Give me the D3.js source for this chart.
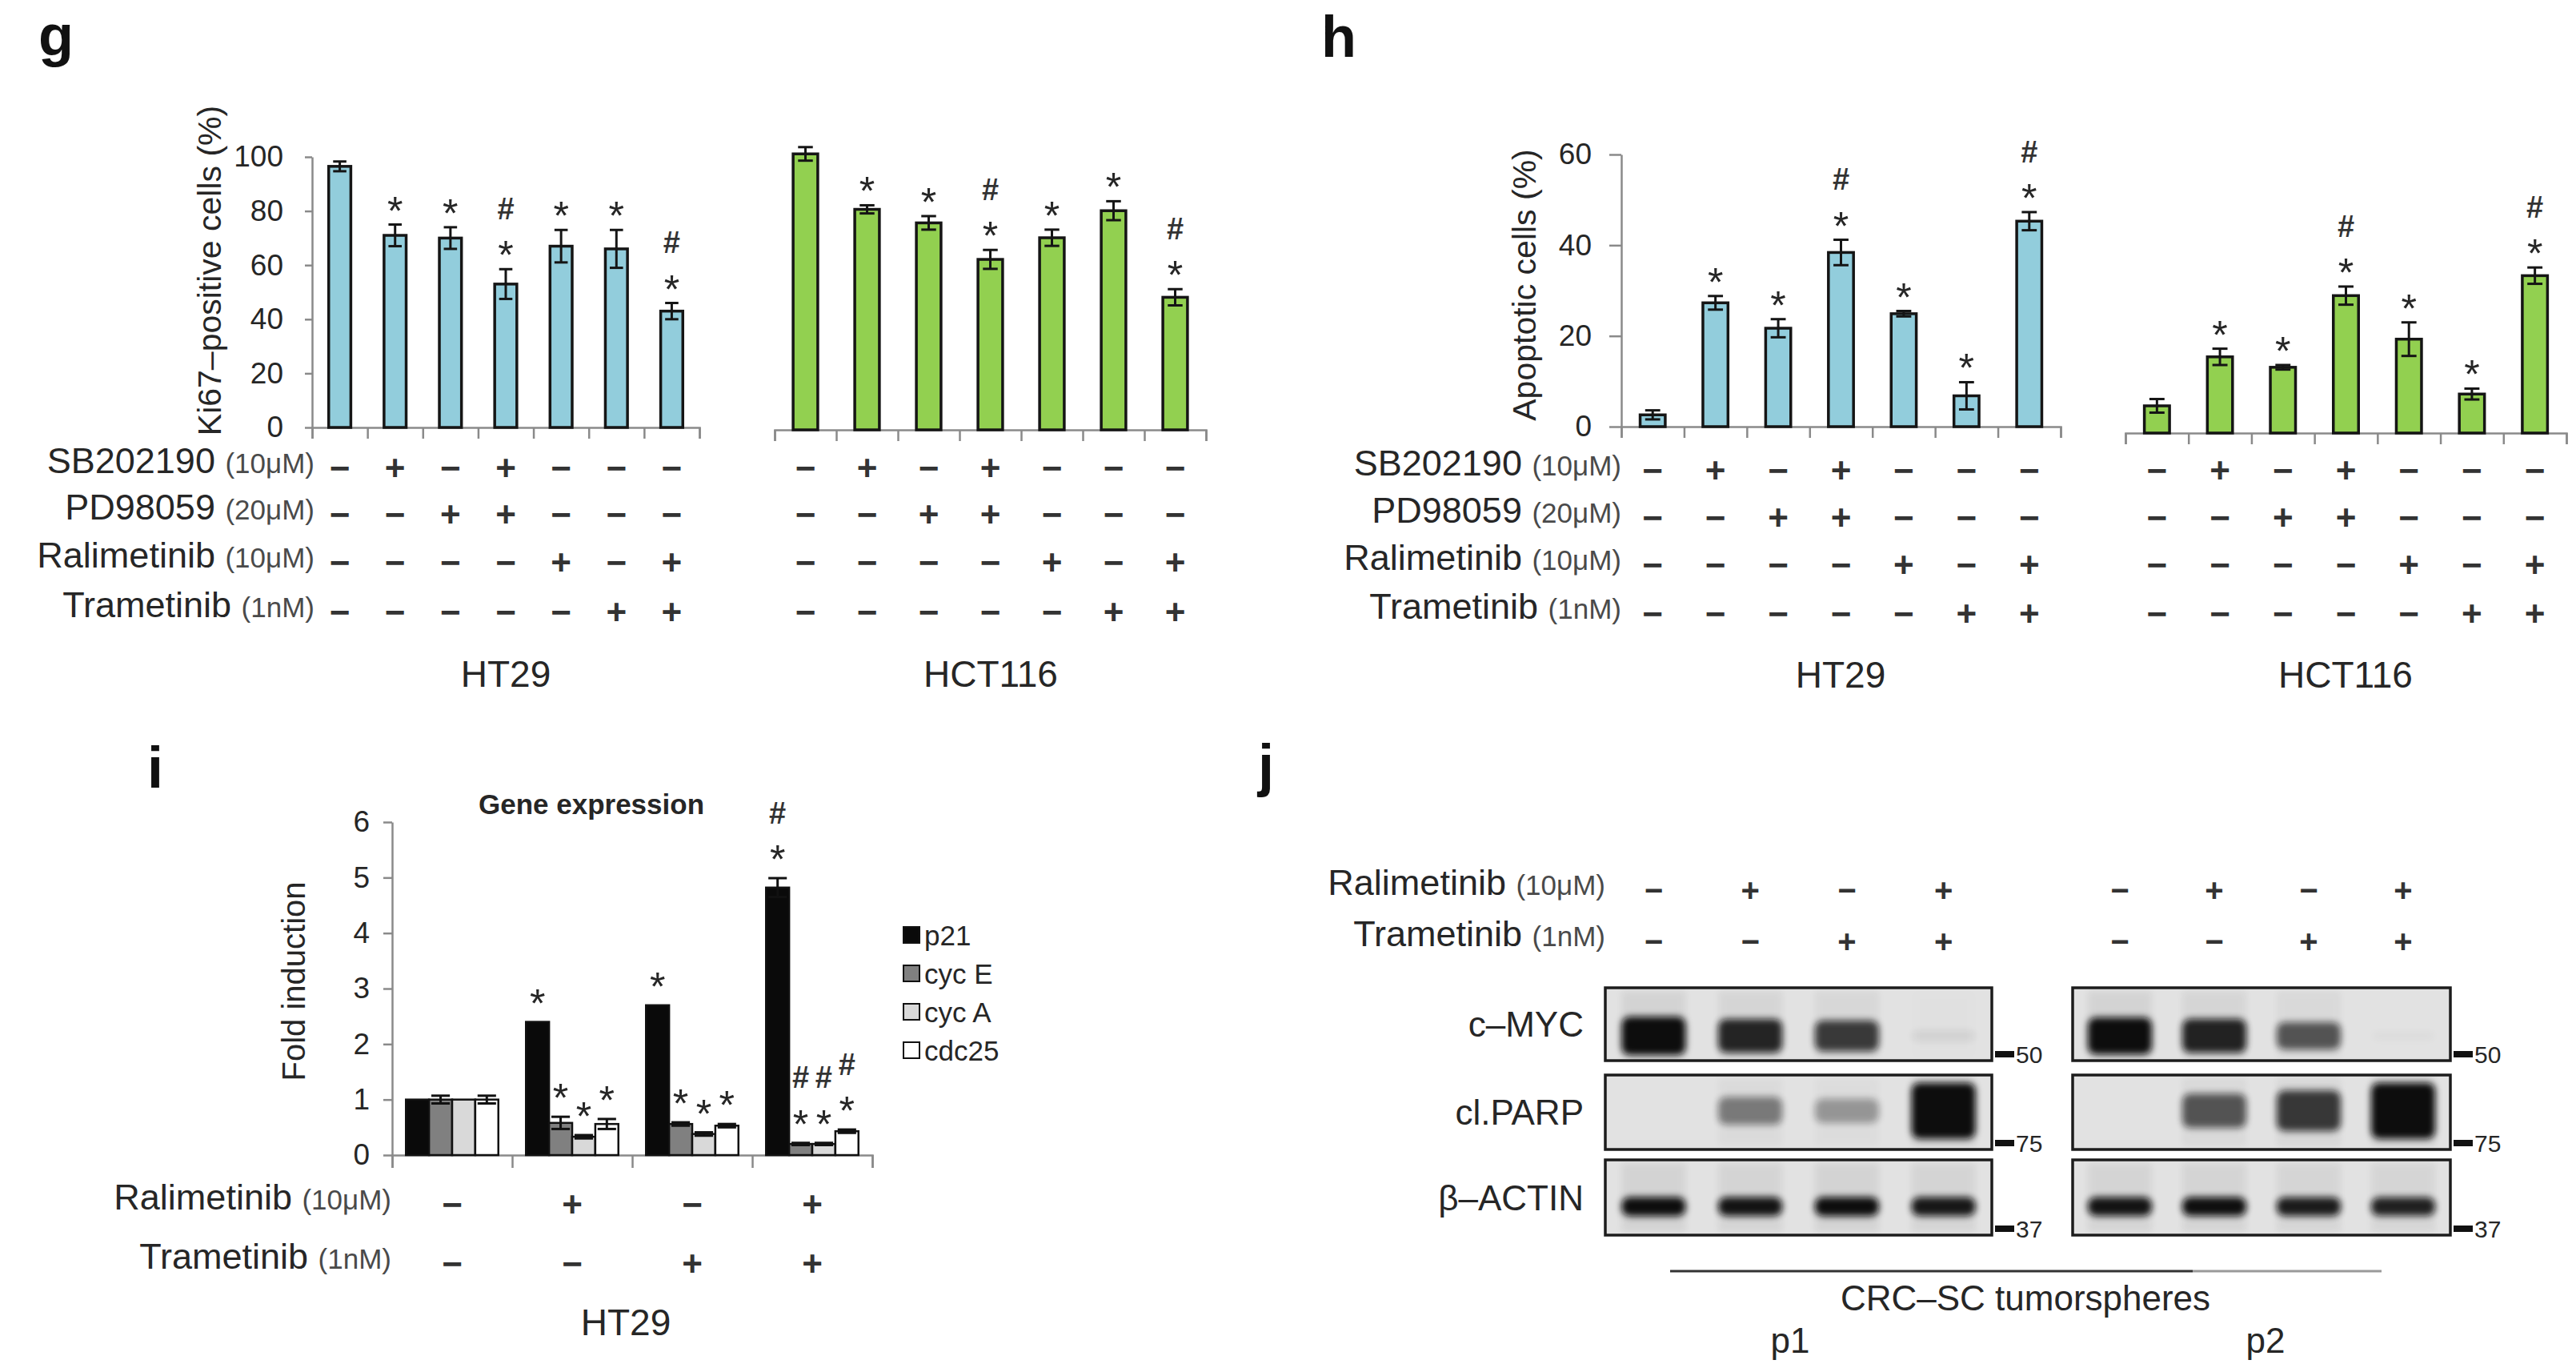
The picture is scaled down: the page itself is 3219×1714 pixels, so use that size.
<!DOCTYPE html>
<html>
<head>
<meta charset="utf-8">
<script src="https://cdn.jsdelivr.net/npm/d3@7"></script>
<style>
body { margin: 0; background: #fff; }
text { font-family: "Liberation Sans", Arial, sans-serif; fill: #262626; }
</style>
</head>
<body>
<script>
// ---- data ----
var drugs = ["SB202190", "PD98059", "Ralimetinib", "Trametinib"];
var doses = ["(10μM)", "(20μM)", "(10μM)", "(1nM)"];
var treatment = [
  [0, 1, 0, 1, 0, 0, 0],
  [0, 0, 1, 1, 0, 0, 0],
  [0, 0, 0, 0, 1, 0, 1],
  [0, 0, 0, 0, 0, 1, 1]
];
var starFlags = [0, 1, 1, 1, 1, 1, 1];
var hashFlags = [0, 0, 0, 1, 0, 0, 1];

var ki67Ticks = [0, 20, 40, 60, 80, 100];
var ki67HT29 = [96.5, 71, 70, 53, 67, 66, 43];
var ki67HT29Err = [1.8, 4, 4, 5.5, 6, 7, 3];
var ki67HCT116 = [102, 81.5, 76.5, 63, 71, 81, 49];
var ki67HCT116Err = [2.5, 1.5, 2.5, 3.5, 3, 3.5, 3];

var apoTicks = [0, 20, 40, 60];
var apoHT29 = [2.6, 27.3, 21.7, 38.4, 24.9, 6.8, 45.3];
var apoHT29Err = [1, 1.5, 2, 2.8, 0.6, 3, 2];
var apoHCT116 = [6, 16.8, 14.5, 30.3, 20.7, 8.6, 34.7];
var apoHCT116Err = [1.5, 1.8, 0.5, 2, 3.7, 1.2, 1.8];

var genes = ["p21", "cyc E", "cyc A", "cdc25"];
var foldTicks = [0, 1, 2, 3, 4, 5, 6];
var foldP21 = [1.0, 2.4, 2.7, 4.82];
var foldCycE = [1.0, 0.58, 0.56, 0.2];
var foldCycA = [1.0, 0.33, 0.38, 0.2];
var foldCdc25 = [1.0, 0.56, 0.53, 0.43];
var errP21 = [0, 0, 0, 0.17];
var errCycE = [0.07, 0.11, 0.03, 0.02];
var errCycA = [0, 0.03, 0.03, 0.02];
var errCdc25 = [0.07, 0.09, 0.03, 0.03];
var geneStars = [0, 1, 1, 1];
var geneHash = [0, 0, 0, 1];
var ralimetinib4 = [0, 1, 0, 1];
var trametinib4 = [0, 0, 1, 1];

var blotNames = ["c–MYC", "cl.PARP", "β–ACTIN"];
var blotMarkers = ["50", "75", "37"];
var mycP1 = [1.0, 0.84, 0.74, 0.06];
var mycP2 = [0.95, 0.85, 0.62, 0.02];
var parpP1 = [0, 0.45, 0.32, 1.0];
var parpP2 = [0, 0.62, 0.75, 1.0];
var actinP1 = [0.95, 0.92, 0.95, 0.9];
var actinP2 = [0.92, 0.94, 0.88, 0.86];

// ---- drawing ----
var svg = d3.select("body").append("svg")
    .attr("width", 3219)
    .attr("height", 1714);

var defs = svg.append("defs");
defs.append("filter").attr("id", "blur")
    .attr("x", "-50%").attr("y", "-80%").attr("width", "200%").attr("height", "260%")
    .append("feGaussianBlur").attr("stdDeviation", 4.5);

var AXIS = "#8a8a8a";

function panelLabel(t, x, y) {
  svg.append("text").attr("x", x).attr("y", y)
      .attr("font-size", 72).attr("font-weight", "bold")
      .style("fill", "#111").text(t);
}

function yTitle(t, x, y, size) {
  svg.append("text")
      .attr("transform", "translate(" + x + "," + y + ") rotate(-90)")
      .attr("text-anchor", "middle").attr("dy", "0.35em")
      .attr("font-size", size).text(t);
}

function styleAxis(a) {
  a.selectAll("path, line").attr("stroke", AXIS).attr("stroke-width", 2.5);
  a.selectAll("text").style("fill", "#262626");
}

// star, and a hash above it, over a bar whose error bar ends at yTop
function marks(g, x, yTop, stars, hashes, i, gap) {
  if (!stars[i]) return;
  var cy = yTop - gap;
  g.append("text").attr("x", x).attr("y", cy + 50 * 0.6)
      .attr("text-anchor", "middle").attr("font-size", 50).text("*");
  if (hashes[i]) {
    g.append("text").attr("x", x).attr("y", cy - 46 + 38 * 0.36)
        .attr("text-anchor", "middle").attr("font-size", 38).attr("font-weight", "bold")
        .style("fill", "#333").text("#");
  }
}

function errorBar(g, cx, y, v, e, w) {
  var top = y(v + e), bot = y(v - e);
  g.append("line").attr("x1", cx).attr("x2", cx).attr("y1", top).attr("y2", bot);
  g.append("line").attr("x1", cx - w / 2).attr("x2", cx + w / 2).attr("y1", top).attr("y2", top);
  g.append("line").attr("x1", cx - w / 2).attr("x2", cx + w / 2).attr("y1", bot).attr("y2", bot);
}

function barChart(c) {
  var g = svg.append("g");
  var n = c.values.length;
  var x = d3.scaleBand().domain(d3.range(n)).range([c.x0, c.x1])
      .paddingInner(0.6).paddingOuter(0.3);
  var y = d3.scaleLinear().domain([0, c.max]).range([c.y0, c.yTop]);

  var xa = g.append("g").attr("transform", "translate(0," + c.y0 + ")")
      .call(d3.axisBottom(d3.scaleLinear().domain([0, n]).range([c.x0, c.x1]))
        .ticks(n).tickFormat("").tickSize(14).tickSizeOuter(14));
  styleAxis(xa);

  if (c.ticks) {
    var ya = g.append("g").attr("transform", "translate(" + c.x0 + ",0)")
        .call(d3.axisLeft(y).tickValues(c.ticks).tickSize(c.tickLen).tickPadding(c.tickPad).tickSizeOuter(0));
    ya.selectAll("text").attr("font-size", 37);
    styleAxis(ya);
  }

  g.selectAll(".bar").data(c.values).enter().append("rect")
      .attr("x", function(d, i) { return x(i); })
      .attr("y", function(d) { return y(d); })
      .attr("width", x.bandwidth())
      .attr("height", function(d) { return c.y0 - y(d); })
      .attr("fill", c.color).attr("stroke", "#151515").attr("stroke-width", 3.5);

  var eg = g.append("g").attr("stroke", "#151515").attr("stroke-width", 3);
  c.values.forEach(function(v, i) {
    errorBar(eg, x(i) + x.bandwidth() / 2, y, v, c.errors[i], x.bandwidth() * 0.6);
  });
  c.values.forEach(function(v, i) {
    marks(g, x(i) + x.bandwidth() / 2, y(v + c.errors[i]), starFlags, hashFlags, i, 30);
  });
  return x;
}

function rowLabel(xEnd, y, main, dose, big, small) {
  var t = svg.append("text").attr("x", xEnd).attr("y", y).attr("dy", "0.36em")
      .attr("text-anchor", "end");
  t.append("tspan").attr("font-size", big).text(main + " ");
  t.append("tspan").attr("font-size", small).style("fill", "#4a4a4a").text(dose);
}

function signRow(xs, flags, y, size) {
  flags.forEach(function(f, i) {
    svg.append("text").attr("x", xs[i]).attr("y", y).attr("dy", "0.34em")
        .attr("text-anchor", "middle").attr("font-size", size).attr("font-weight", "bold")
        .style("fill", "#333").text(f ? "+" : "−");
  });
}

function centers(x, n) {
  return d3.range(n).map(function(i) { return x(i) + x.bandwidth() / 2; });
}

// ---------- panel g ----------
panelLabel("g", 48, 69);
yTitle("Ki67–positive cells (%)", 262, 338, 41);
var gx1 = barChart({ values: ki67HT29, errors: ki67HT29Err, color: "#92cddc",
  x0: 390, x1: 874, y0: 534, yTop: 196, max: 100, ticks: ki67Ticks, tickLen: 9, tickPad: 27 });
var gx2 = barChart({ values: ki67HCT116, errors: ki67HCT116Err, color: "#92d050",
  x0: 968, x1: 1507, y0: 537, yTop: 199, max: 100 });
var gRows = [585, 643, 703, 765];
drugs.forEach(function(d, r) {
  rowLabel(393, gRows[r], d, doses[r], 45, 35);
  signRow(centers(gx1, 7), treatment[r], gRows[r], 44);
  signRow(centers(gx2, 7), treatment[r], gRows[r], 44);
});
svg.append("text").attr("x", 632).attr("y", 858).attr("text-anchor", "middle").attr("font-size", 46).text("HT29");
svg.append("text").attr("x", 1238).attr("y", 858).attr("text-anchor", "middle").attr("font-size", 46).text("HCT116");

// ---------- panel h ----------
panelLabel("h", 1651, 71);
yTitle("Apoptotic cells (%)", 1905, 356, 41);
var hx1 = barChart({ values: apoHT29, errors: apoHT29Err, color: "#92cddc",
  x0: 2026, x1: 2575, y0: 533, yTop: 193, max: 60, ticks: apoTicks, tickLen: 15, tickPad: 22 });
var hx2 = barChart({ values: apoHCT116, errors: apoHCT116Err, color: "#92d050",
  x0: 2656, x1: 3207, y0: 541, yTop: 201, max: 60 });
var hRows = [588, 647, 706, 767];
drugs.forEach(function(d, r) {
  rowLabel(2026, hRows[r], d, doses[r], 45, 35);
  signRow(centers(hx1, 7), treatment[r], hRows[r], 44);
  signRow(centers(hx2, 7), treatment[r], hRows[r], 44);
});
svg.append("text").attr("x", 2300).attr("y", 859).attr("text-anchor", "middle").attr("font-size", 46).text("HT29");
svg.append("text").attr("x", 2931).attr("y", 859).attr("text-anchor", "middle").attr("font-size", 46).text("HCT116");

// ---------- panel i ----------
panelLabel("i", 184, 984);
svg.append("text").attr("x", 739).attr("y", 1017).attr("text-anchor", "middle")
    .attr("font-size", 35).attr("font-weight", "bold").text("Gene expression");
yTitle("Fold induction", 367, 1226, 40);

var geneVals = [foldP21, foldCycE, foldCycA, foldCdc25];
var geneErrs = [errP21, errCycE, errCycA, errCdc25];
var geneFill = ["#0a0a0a", "#808080", "#d9d9d9", "#ffffff"];
(function() {
  var g = svg.append("g");
  var x0 = d3.scaleBand().domain(d3.range(4)).range([490, 1090]).paddingInner(0.23).paddingOuter(0.115);
  var x1 = d3.scaleBand().domain(d3.range(4)).range([0, x0.bandwidth()]);
  var y = d3.scaleLinear().domain([0, 6]).range([1443, 1027]);

  var xa = g.append("g").attr("transform", "translate(0,1443)")
      .call(d3.axisBottom(d3.scaleLinear().domain([0, 4]).range([490, 1090]))
        .ticks(4).tickFormat("").tickSize(16).tickSizeOuter(16));
  styleAxis(xa);
  var ya = g.append("g").attr("transform", "translate(490,0)")
      .call(d3.axisLeft(y).tickValues(foldTicks).tickFormat(d3.format("d"))
        .tickSize(11).tickPadding(17).tickSizeOuter(0));
  ya.selectAll("text").attr("font-size", 37);
  styleAxis(ya);

  genes.forEach(function(gene, k) {
    g.selectAll(".b" + k).data(geneVals[k]).enter().append("rect")
        .attr("x", function(d, i) { return x0(i) + x1(k); })
        .attr("y", function(d) { return y(d); })
        .attr("width", x1.bandwidth())
        .attr("height", function(d) { return 1443 - y(d); })
        .attr("fill", geneFill[k]).attr("stroke", "#111").attr("stroke-width", 2.5);
  });
  var eg = g.append("g").attr("stroke", "#111").attr("stroke-width", 3);
  genes.forEach(function(gene, k) {
    geneVals[k].forEach(function(v, i) {
      if (geneErrs[k][i] > 0) errorBar(eg, x0(i) + x1(k) + x1.bandwidth() / 2, y, v, geneErrs[k][i], x1.bandwidth() * 0.8);
    });
  });
  genes.forEach(function(gene, k) {
    geneVals[k].forEach(function(v, i) {
      marks(g, x0(i) + x1(k) + x1.bandwidth() / 2, y(v + geneErrs[k][i]), geneStars, geneHash, i, 36);
    });
  });

  var iCols = centers(x0, 4);
  rowLabel(489, 1505, "Ralimetinib", "(10μM)", 45, 35);
  rowLabel(489, 1579, "Trametinib", "(1nM)", 45, 35);
  signRow(iCols, ralimetinib4, 1505, 44);
  signRow(iCols, trametinib4, 1579, 44);
  svg.append("text").attr("x", 782).attr("y", 1668).attr("text-anchor", "middle").attr("font-size", 46).text("HT29");

  // legend
  var lg = svg.append("g");
  var ly = [1168, 1216, 1264, 1312];
  genes.forEach(function(gene, k) {
    lg.append("rect").attr("x", 1129).attr("y", ly[k] - 10).attr("width", 20).attr("height", 20)
        .attr("fill", geneFill[k]).attr("stroke", "#111").attr("stroke-width", 2);
    lg.append("text").attr("x", 1155).attr("y", ly[k]).attr("dy", "0.36em")
        .attr("font-size", 35).text(gene);
  });
})();

// ---------- panel j ----------
panelLabel("j", 1572, 981);
var boxes = [{ x0: 2006, x1: 2489 }, { x0: 2590, x1: 3062 }];
var blotRows = [{ y0: 1234, y1: 1325 }, { y0: 1343, y1: 1436 }, { y0: 1449, y1: 1543 }];
var blotData = [[mycP1, mycP2], [parpP1, parpP2], [actinP1, actinP2]];
var bandStyle = [
  { cy: 0.66, h: function(v) { return 12 + 36 * v; } },
  { cy: 0.48, h: function(v) { return 26 + 44 * v * v; } },
  { cy: 0.62, h: function(v) { return 18 + 6 * v; } }
];

rowLabel(2006, 1112, "Ralimetinib", "(10μM)", 45, 35);
rowLabel(2006, 1176, "Trametinib", "(1nM)", 45, 35);

boxes.forEach(function(b, p) {
  var lane = d3.scalePoint().domain(d3.range(4)).range([b.x0, b.x1]).padding(0.5);
  var laneXs = d3.range(4).map(function(i) { return lane(i); });
  signRow(laneXs, ralimetinib4, 1112, 40);
  signRow(laneXs, trametinib4, 1176, 40);

  blotRows.forEach(function(r, k) {
    var id = "clip" + p + k;
    defs.append("clipPath").attr("id", id).append("rect")
        .attr("x", b.x0).attr("y", r.y0).attr("width", b.x1 - b.x0).attr("height", r.y1 - r.y0);
    var g = svg.append("g");
    g.append("rect").attr("x", b.x0).attr("y", r.y0).attr("width", b.x1 - b.x0).attr("height", r.y1 - r.y0)
        .attr("fill", "#e2e2e2");
    var bands = g.append("g").attr("clip-path", "url(#" + id + ")");
    blotData[k][p].forEach(function(v, i) {
      if (v <= 0) return;
      var h = bandStyle[k].h(v);
      var cy = r.y0 + (r.y1 - r.y0) * bandStyle[k].cy;
      // faint lane smear plus the band itself
      bands.append("rect")
          .attr("x", lane(i) - 40).attr("y", r.y0 + 4).attr("width", 80).attr("height", r.y1 - r.y0 - 8)
          .attr("fill", "#000").attr("opacity", 0.06 * v).attr("filter", "url(#blur)");
      bands.append("rect")
          .attr("x", lane(i) - 40).attr("y", cy - h / 2).attr("width", 80).attr("height", h)
          .attr("rx", 10).attr("ry", 10)
          .attr("fill", "#0b0b0b").attr("opacity", Math.min(1, v * 1.05))
          .attr("filter", "url(#blur)");
    });
    g.append("rect").attr("x", b.x0).attr("y", r.y0).attr("width", b.x1 - b.x0).attr("height", r.y1 - r.y0)
        .attr("fill", "none").attr("stroke", "#1c1c1c").attr("stroke-width", 3.5);
    g.append("rect").attr("x", b.x1 + 4).attr("y", r.y1 - 12).attr("width", 24).attr("height", 8).attr("fill", "#111");
    g.append("text").attr("x", b.x1 + 30).attr("y", r.y1 - 8).attr("dy", "0.36em")
        .attr("font-size", 30).text(blotMarkers[k]);
  });
});
blotRows.forEach(function(r, k) {
  svg.append("text").attr("x", 1979).attr("y", (r.y0 + r.y1) / 2).attr("dy", "0.36em")
      .attr("text-anchor", "end").attr("font-size", 44).text(blotNames[k]);
});
svg.append("line").attr("x1", 2087).attr("x2", 2740).attr("y1", 1588).attr("y2", 1588)
    .attr("stroke", "#333").attr("stroke-width", 3);
svg.append("line").attr("x1", 2740).attr("x2", 2976).attr("y1", 1588).attr("y2", 1588)
    .attr("stroke", "#9a9a9a").attr("stroke-width", 3);
svg.append("text").attr("x", 2531).attr("y", 1637).attr("text-anchor", "middle").attr("font-size", 44).text("CRC–SC tumorspheres");
svg.append("text").attr("x", 2237).attr("y", 1690).attr("text-anchor", "middle").attr("font-size", 44).text("p1");
svg.append("text").attr("x", 2831).attr("y", 1690).attr("text-anchor", "middle").attr("font-size", 44).text("p2");
</script>
</body>
</html>
